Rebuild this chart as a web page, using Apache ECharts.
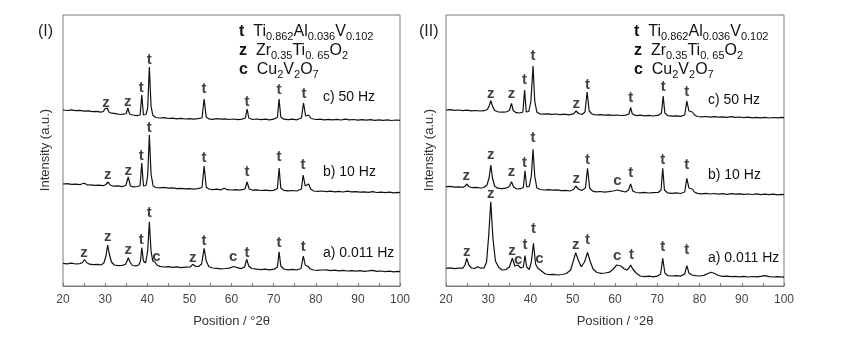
<!DOCTYPE html>
<html>
<head>
<meta charset="utf-8">
<script src="https://cdn.jsdelivr.net/npm/echarts@6/dist/echarts.min.js"></script>
<style>
  html, body { margin: 0; padding: 0; background: #fff; }
  #main { width: 858px; height: 353px; }
</style>
</head>
<body>
<div id="main"></div>
<script>
// XRD patterns, 2theta in degrees, intensity in arbitrary units (curves stacked)
const xTicks = [20, 30, 40, 50, 60, 70, 80, 90, 100];

// panel (I)
const patternIc = [[20,176],[21,175.5],[22,176.2],[23,175.4],[24,175.6],[25,174.8],[26,175.1],[27,174.3],[28,174.6],[29,173.8],[29.6,174.5],[29.9,177],[30.15,175],[30.5,178],[30.9,174],[31.5,172.8],[32.5,172.4],[33.5,171.5],[34.5,171.8],[35,172.5],[35.4,178],[35.8,172],[36.5,171],[37.5,170.4],[38.3,171],[38.7,191],[39.1,171],[39.7,171.5],[40.1,178],[40.5,219],[40.9,180],[41.3,171],[42,168.5],[43,168],[44,168.4],[45,167.5],[46,167.8],[47,167.2],[48,167.6],[49,167],[50,167.4],[51,166.8],[52,167.3],[53,168],[53.5,187],[54,169],[54.6,167.2],[55.5,166.6],[56.5,167.3],[57.5,166.8],[58.5,167.1],[59.5,166.5],[60.5,167],[61.5,166.4],[62.5,166.9],[63.3,168],[63.7,177],[64.1,168],[65,166.5],[66,167],[67,166.3],[68,166.8],[69,166.2],[70,166.9],[70.9,168.5],[71.3,187],[71.7,169],[72.4,166.8],[73.5,166.3],[74.5,166.9],[75.5,166.2],[76.6,168],[77.1,183],[77.6,170],[78.3,171],[78.9,167.5],[80,166.5],[81,166.9],[82,166.2],[83,166.7],[84,166.1],[85,166.6],[86,166],[87,166.8],[88,166.2],[89,166.5],[90,165.9],[91,166.4],[92,165.8],[93,166.3],[94,165.7],[95,166.2],[96,165.6],[97,166.1],[98,165.5],[99,166],[100,165.6]];
const patternIb = [[20,102],[21,102.4],[22,101.6],[23,101.9],[24,101.3],[24.7,102.5],[25.2,102.6],[25.8,101],[26.5,101.2],[27.5,100.6],[28.5,100.9],[29.5,100.3],[30.2,101.5],[30.7,104],[31.2,101],[32,99.8],[33,100.1],[34,99.4],[34.9,100.5],[35.5,109],[36,100],[36.8,99.2],[37.8,99.5],[38.3,100.5],[38.7,123],[39.1,100],[39.7,100.5],[40.1,110],[40.5,151],[40.9,112],[41.4,100],[42,98.5],[43,98.2],[44,98.6],[45,97.8],[46,98.1],[47,97.4],[48,97.7],[49,97.1],[50,97.4],[51,96.9],[52,97.3],[53,98.5],[53.5,120],[54,99],[54.6,97],[55.5,96.4],[56.5,96.8],[57.5,96.2],[58.3,97.8],[59,96.3],[60,96],[61,96.4],[62,95.8],[63.2,97],[63.7,104],[64.2,97],[65,95.8],[66,96.1],[67,95.5],[68,95.9],[69,95.3],[70,95.6],[70.9,97.5],[71.3,118],[71.7,98],[72.4,95.6],[73.5,95.1],[74.5,95.5],[75.5,95],[76.6,97],[77,111],[77.5,100],[77.9,99],[78.3,102],[78.8,97],[79.5,95],[80.5,94.6],[81.5,95],[82.5,94.4],[83.5,94.8],[84.5,94.2],[85.5,94.6],[86.5,94],[87.5,94.8],[88.5,94.1],[89.5,94.4],[90.5,93.8],[91.5,94.2],[92.5,93.6],[93.5,94.3],[94.5,93.5],[95.5,93.9],[96.5,93.3],[97.5,93.8],[98.5,93.2],[99.5,93.7],[100,93.3]];
const patternIa = [[20,22.7],[21,22.2],[22,22.9],[23,22],[24,22.4],[24.6,23.5],[25.1,26.5],[25.6,23.5],[26.3,21.8],[27.3,21.3],[28.3,21.6],[29,21],[29.7,23],[30.2,30],[30.6,41],[31,32],[31.5,24],[32.2,21],[33,20.3],[34,20.6],[34.8,21.5],[35.2,25],[35.5,28.3],[35.9,24],[36.5,20.5],[37.3,20.2],[38,21],[38.4,25],[38.7,38.3],[39.1,25],[39.6,23],[40.1,35],[40.5,64.3],[40.9,35],[41.3,25],[41.8,24],[42.3,21],[43,19.6],[44,19],[45,19.4],[46,18.7],[47,19.1],[48,18.4],[49,18.8],[50.2,19],[50.8,21.7],[51.4,19.8],[52.2,19.5],[52.9,22],[53.5,37.7],[54,25],[54.6,19.5],[55.5,18],[56.5,17.7],[57.5,17.2],[58.5,17.5],[59.5,17.9],[60.5,19.5],[61.4,18.4],[62.3,17.4],[63.1,19],[63.6,26.7],[64.1,20],[64.8,17.5],[66,16.8],[67,16.4],[68,16.9],[69,16.2],[70.2,16.8],[70.9,19],[71.3,34.3],[71.7,20],[72.4,17],[73.5,16.2],[74.5,16.6],[75.5,16],[76.5,17.5],[77.05,30],[77.5,21],[77.9,19],[78.2,19.5],[78.7,17],[79.5,16],[80.5,15.6],[81.5,16],[82.5,16.2],[83.5,15.4],[84.5,15.8],[85.5,15.2],[86.5,15.6],[87.5,15],[88.5,15.4],[89.5,14.9],[90.5,15.3],[91.5,14.7],[92.5,15.1],[93.5,15.6],[94.5,14.6],[95.5,15],[96.5,14.4],[97.5,14.8],[98.5,14.2],[99.5,14.6],[100,14.3]];

// panel (II)
const patternIIc = [[20,176],[21,176.3],[22,175.6],[23,176],[24,175.4],[25,175.8],[26,175.2],[27,175.5],[28,175],[29,175.3],[29.8,176.5],[30.2,180],[30.6,185.3],[31,180],[31.5,175.5],[32.3,174.2],[33.3,173.9],[34.3,174.2],[35,175.5],[35.5,182.7],[35.9,175.5],[36.6,173.3],[37.5,173],[38.2,174],[38.6,196],[39,174],[39.6,174.5],[40.1,185],[40.6,220],[41,185],[41.5,174],[42.2,172],[43,171.8],[44,172.2],[45,171.6],[46,172],[47,171.4],[48,171.8],[49,171.2],[50.2,172.2],[50.8,175],[51.4,172.5],[52.2,171.5],[52.9,174],[53.4,194],[53.9,175],[54.6,171.8],[55.5,171],[56.5,171.4],[57.5,170.8],[58.5,171.2],[59.5,170.6],[60.5,171],[61.5,170.5],[62.5,170.9],[63.3,172],[63.7,178.5],[64.1,172],[65,170.4],[66,170.8],[67,170.2],[68,170.6],[69,170],[70.3,170.8],[71,173],[71.4,190],[71.8,173],[72.5,170.3],[73.5,169.8],[74.5,170.2],[75.5,169.6],[76.5,171],[77,185],[77.5,175],[77.9,173],[78.3,174],[78.8,171],[79.5,169.5],[80.5,169.1],[81.5,169.5],[82.5,168.9],[83.5,169.3],[84.5,168.8],[85.5,169.2],[86.5,168.6],[87.5,169.3],[88.5,168.7],[89.5,169],[90.5,168.4],[91.5,168.8],[92.5,168.2],[93.5,168.7],[94.5,168.1],[95.5,168.6],[96.5,168],[97.5,168.5],[98.5,168.2],[99.5,168.6],[100,168.4]];
const patternIIb = [[20,99.3],[21,99.6],[22,98.9],[23,99.2],[24,98.7],[24.5,99.8],[24.9,102],[25.4,99.5],[26.2,98.3],[27.2,98.6],[28.2,98],[29,98.5],[29.7,101],[30.2,108],[30.6,121],[31,108],[31.5,100],[32.2,97.8],[33.2,97.4],[34.2,97.8],[35,99.5],[35.5,104.3],[36,99],[36.8,97],[37.6,97.3],[38.3,98.5],[38.7,115.3],[39.1,99],[39.7,99.5],[40.2,110],[40.6,136.7],[41,110],[41.5,98],[42.3,96.5],[43.3,96],[44.3,96.4],[45.3,95.8],[46.3,96.1],[47.3,95.3],[48.3,95.6],[49.3,95],[50.2,96.5],[50.7,100],[51.3,97],[52.1,95.5],[53,98],[53.5,117.7],[54,98],[54.7,94.8],[55.5,94.2],[56.5,94.5],[57.5,93.9],[58.5,94.3],[59.6,95],[60.6,96],[61.6,94.8],[62.5,94],[63.2,96],[63.7,102],[64.2,95],[65,93.5],[66,93.2],[67,93.6],[68,93],[69,93.4],[70.2,93.5],[70.9,96],[71.3,117.7],[71.7,96],[72.4,93.2],[73.5,92.7],[74.5,93.1],[75.5,92.5],[76.5,94],[77,107.7],[77.5,98],[77.9,96],[78.3,97],[78.8,94],[79.5,92.6],[80.5,92.2],[81.5,92.6],[82.5,92],[83.5,92.5],[84.5,91.9],[85.5,92.3],[86.5,91.7],[87.5,92.4],[88.5,91.8],[89.5,92.2],[90.5,91.6],[91.5,92],[92.5,91.5],[93.5,92.1],[94.5,91.4],[95.5,91.9],[96.5,91.3],[97.5,91.8],[98.5,91.2],[99.5,91.7],[100,91.4]];
const patternIIa = [[20,17.7],[21,18.1],[22,17.4],[23,17.8],[24,17.9],[24.5,21],[24.9,27.7],[25.4,21],[26,18],[26.8,17.6],[27.5,19.3],[28.2,17.8],[29,18],[29.6,24],[30.1,50],[30.6,84.3],[31.1,48],[31.7,25],[32.5,18.5],[33.3,16],[34.2,16.4],[35,19],[35.7,27.7],[36.3,20],[37,21],[37.7,18],[38.3,19],[38.7,30.3],[39.1,19],[39.7,16.5],[40.2,24],[40.7,42.7],[41.2,22],[41.7,18],[42.1,19.3],[42.6,15],[43.5,12],[44.5,11.3],[45.5,11.7],[46.5,11],[47.5,11.5],[48.5,12.5],[49.5,16],[50.2,26],[50.7,33.3],[51.3,26],[52,19.3],[52.8,24],[53.5,33.7],[54.1,25],[54.8,17],[55.7,13.5],[56.7,12.7],[57.7,13],[58.7,13.8],[59.6,17],[60.4,21],[60.8,22],[61.4,20],[62.2,17],[62.8,16],[63.3,18],[63.7,21],[64.2,17],[65,13],[66,10],[67,9.3],[68,9.8],[69,9.2],[70,9.8],[70.8,12],[71.3,27.7],[71.8,13],[72.5,10.3],[73.5,10],[74.5,10.4],[75.5,9.9],[76.5,12],[77,20.3],[77.5,13],[78.2,11],[79,10.3],[80,10],[81,10.6],[82,12.5],[82.8,13.7],[83.6,12.5],[84.5,10.5],[85.5,9.6],[86.5,9.9],[87.5,9.3],[88.5,9.7],[89.5,9.2],[90.5,9.6],[91.5,9],[92.5,9.5],[93.5,9.1],[94.5,9.7],[95.5,10.3],[96.5,9.4],[97.5,9],[98.5,9.4],[99.5,8.9],[100,9.2]];

// phase letters above reflections: [2theta, height, phase]
const peaksI = [
    [30.2,183,'z'],[35.4,184,'z'],[38.6,198,'t'],[40.5,226,'t'],[53.5,197,'t'],[63.7,184,'t'],[71.3,196,'t'],[77.2,192,'t'],
    [30.6,111,'z'],[35.5,115,'z'],[38.6,130,'t'],[40.5,158,'t'],[53.5,128,'t'],[63.7,114,'t'],[71.3,129,'t'],[77.0,121,'t'],
    [25,33,'z'],[30.6,49,'z'],[35.5,36,'z'],[38.6,46,'t'],[40.5,73,'t'],[42.2,29,'c'],[50.8,28,'z'],[53.5,45,'t'],[60.4,29,'c'],[63.7,33,'t'],[71.3,43,'t'],[77.05,39,'t']
];
const peaksII = [
    [30.6,192,'z'],[35.5,192,'z'],[38.6,206,'t'],[40.6,230,'t'],[50.8,182,'z'],[53.5,201,'t'],[63.7,188,'t'],[71.4,199,'t'],[77.0,194,'t'],
    [24.8,110,'z'],[30.6,131,'z'],[35.5,114,'z'],[38.6,123,'t'],[40.6,148,'t'],[50.8,107,'z'],[53.5,126,'t'],[60.6,105,'c'],[63.7,113,'t'],[71.3,126,'t'],[77.0,121,'t'],
    [24.9,34,'z'],[30.6,92,'z'],[35.6,35,'z'],[37.1,26,'c'],[38.7,41,'t'],[40.7,57,'t'],[42.1,27,'c'],[50.7,41,'z'],[53.5,46,'t'],[60.5,30,'c'],[63.9,31,'t'],[71.3,39,'t'],[77.0,36,'t']
];

const sampleNames = ['c) 50 Hz', 'b) 10 Hz', 'a) 0.011 Hz'];
const legendRows = [
    '{b|t}  Ti{s|0.862}Al{s|0.036}V{s|0.102}',
    '{b|z}  Zr{s|0.35}Ti{s|0. 65}O{s|2}',
    '{b|c}  Cu{s|2}V{s|2}O{s|7}'
];

const chart = echarts.init(document.getElementById('main'), null, { renderer: 'canvas' });

const FONT = 'Arial, "Liberation Sans", sans-serif';
const axisGray = '#7a7a7a';
const lineColor = '#111';

function xAxisFor(gridIndex) {
    return {
        type: 'value', gridIndex: gridIndex,
        min: xTicks[0], max: xTicks[xTicks.length - 1], interval: 10,
        name: 'Position / °2θ', nameLocation: 'middle', nameGap: 29,
        nameTextStyle: { fontFamily: FONT, fontSize: 13, color: '#333' },
        axisLine: { lineStyle: { color: axisGray, width: 1 } },
        axisTick: { inside: true, length: 3, lineStyle: { color: axisGray } },
        minorTick: { show: true, splitNumber: 2, length: 3, lineStyle: { color: axisGray } },
        axisLabel: { fontFamily: FONT, fontSize: 12, color: '#444', margin: 8 },
        splitLine: { show: false }
    };
}

function yAxisFor(gridIndex) {
    return {
        type: 'value', gridIndex: gridIndex, min: 0, max: 271,
        axisLine: { show: false }, axisTick: { show: false },
        axisLabel: { show: false }, splitLine: { show: false }
    };
}

function traceSeries(idx, data) {
    return {
        type: 'line', xAxisIndex: idx, yAxisIndex: idx, data: data,
        showSymbol: false, symbol: 'none', silent: true,
        lineStyle: { color: lineColor, width: 1.2 }
    };
}

function peakSeries(idx, peaks) {
    return {
        type: 'scatter', xAxisIndex: idx, yAxisIndex: idx, symbolSize: 0, silent: true,
        data: peaks.map(p => ({ name: p[2], value: [p[0], p[1]] })),
        label: {
            show: true, position: 'inside', formatter: '{b}',
            fontFamily: FONT, fontSize: 15, fontWeight: 'bold', color: '#111'
        }
    };
}

const legendRich = {
    b: { fontFamily: FONT, fontSize: 16, fontWeight: 'bold', color: '#111', lineHeight: 20 },
    s: { fontFamily: FONT, fontSize: 11, color: '#111', lineHeight: 11, verticalAlign: 'bottom' }
};

function panelGraphics(axisTitleX, tagX, tag, legendX, labelX, labelYs) {
    const items = [];
    items.push({
        type: 'text', left: tagX, top: 24,
        style: { text: tag, font: '16px ' + FONT, fill: '#222' }
    });
    items.push({
        type: 'text', x: axisTitleX, y: 150, rotation: Math.PI / 2,
        style: { text: 'Intensity (a.u.)', font: '13px ' + FONT, fill: '#333', align: 'center', verticalAlign: 'middle' }
    });
    legendRows.forEach((row, i) => {
        items.push({
            type: 'text', x: legendX, y: 32 + i * 19,
            style: {
                text: row, rich: legendRich, fontFamily: FONT, fontSize: 16, fill: '#111',
                lineHeight: 20, verticalAlign: 'middle'
            }
        });
    });
    sampleNames.forEach((s, i) => {
        items.push({
            type: 'text', x: labelX, y: labelYs[i],
            style: { text: s, font: '14px ' + FONT, fill: '#111', verticalAlign: 'middle' }
        });
    });
    return items;
}

const option = {
    backgroundColor: '#fff',
    animation: false,
    grid: [
        { left: 63, right: 458, top: 15, bottom: 67, show: true, borderColor: axisGray, borderWidth: 1 },
        { left: 446, right: 74, top: 15, bottom: 67, show: true, borderColor: axisGray, borderWidth: 1 }
    ],
    xAxis: [xAxisFor(0), xAxisFor(1)],
    yAxis: [yAxisFor(0), yAxisFor(1)],
    graphic: panelGraphics(45, 38, '(I)', 239, 323, [97, 172, 253])
        .concat(panelGraphics(429, 419, '(II)', 634, 708, [100, 175, 258])),
    series: [
        traceSeries(0, patternIc), traceSeries(0, patternIb), traceSeries(0, patternIa),
        traceSeries(1, patternIIc), traceSeries(1, patternIIb), traceSeries(1, patternIIa),
        peakSeries(0, peaksI), peakSeries(1, peaksII)
    ]
};

chart.setOption(option);
</script>
</body>
</html>
